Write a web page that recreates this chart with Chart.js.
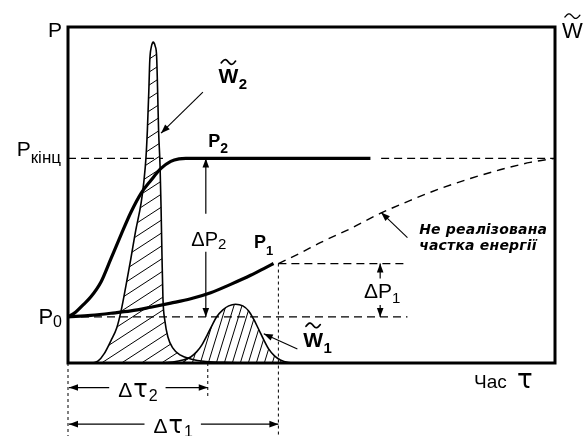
<!DOCTYPE html>
<html>
<head>
<meta charset="utf-8">
<script src="https://cdn.jsdelivr.net/npm/chart.js@4/dist/chart.umd.min.js"></script>
<style>
  html, body { margin: 0; padding: 0; background: #fff; }
  canvas { display: block; }
</style>
</head>
<body>
<canvas id="c" width="585" height="436"></canvas>
<script>
// Power levels (P axis, arbitrary units 0..100)
const P0 = 13.7;      // initial level P0
const P_END = 60.9;   // final level P_кінц
const P1_END = 29.6;  // level of P1 at the end of Δτ1
// Time marks (τ axis, arbitrary units 0..100)
const TAU2 = 28.7;    // Δτ2
const TAU1 = 43.2;    // Δτ1

// P2: fast growth to P_кінц
const p2Time  = [0, 1.6, 3.1, 4.7, 6.8, 8.8, 10.9, 12.9, 15.0, 17.0, 19.1, 21.1, 22.8, 24.2, 62.1];
const p2Power = [P0, 15.2, 17.3, 19.7, 24.2, 31.0, 38.2, 44.8, 50.5, 54.3, 57.9, 60.0, 60.75, P_END, P_END];

// P1: slow growth during Δτ1
const p1Time  = [0, 4.7, 8.8, 12.9, 17.0, 21.1, 25.2, 29.3, 33.4, 37.5, 40.6, 42.2];
const p1Power = [P0, 14.2, 14.8, 15.5, 16.6, 17.8, 19.1, 20.9, 23.4, 26.1, 28.4, P1_END];

// Continuation of P1 that is not reached (unrealised part of energy)
const lossTime  = [TAU1, 47.8, 51.8, 58.0, 64.1, 70.3, 76.4, 82.6, 88.7, 94.9, 100];
const lossPower = [P1_END, 32.8, 35.8, 40.0, 44.5, 48.4, 51.9, 54.9, 57.5, 59.7, P_END];

// W̃2: short intense energy pulse
const w2Time = [5.1, 6.2, 7.4, 8.8, 10.0, 10.9, 11.9, 12.9, 13.9, 15.0, 15.6, 16.0, 16.3, 16.6, 16.8, 17.1, 17.5,
                17.9, 18.2, 18.4, 18.6, 18.9, 19.1, 19.3, 19.5, 19.9, 20.5, 21.5, 23.0, 25.2, 28.3, 33.4, 38.5];
const w2Rate = [0, 0.6, 2.7, 6.6, 10.4, 15.5, 23.0, 31.0, 39.4, 47.5, 54.3, 60.9, 69.3, 81.2, 90.2, 94.0, 95.5,
                94.3, 91.3, 81.2, 69.3, 58.8, 46.9, 31.9, 19.1, 12.5, 7.8, 4.5, 2.4, 1.2, 0.45, 0.15, 0];

// W̃1: long weak energy pulse
const w1Time = [19.1, 21.5, 23.6, 25.2, 26.4, 27.5, 28.5, 29.5, 30.5, 31.8, 33.0, 34.4, 35.9, 37.1, 38.1,
                39.1, 40.2, 41.2, 42.4, 43.6, 45.3, 46.9];
const w1Rate = [0, 0.3, 0.9, 1.8, 3.3, 5.4, 8.1, 11.0, 13.7, 15.8, 17.0, 17.5, 17.0, 15.5, 13.1,
                10.2, 6.9, 4.2, 2.1, 0.9, 0.15, 0];

const SANS = '"Liberation Sans", Arial, sans-serif';
const WIDE = '"DejaVu Sans", sans-serif';

const pts = (xs, ys) => xs.map((x, i) => ({ x, y: ys[i] }));

const canvas = document.getElementById('c');
const ctx0 = canvas.getContext('2d');

// diagonal hatching tile: lines with slope h/w, spaced w apart horizontally
function hatch(w, h, lw) {
  const t = document.createElement('canvas');
  t.width = w; t.height = h;
  const g = t.getContext('2d');
  g.strokeStyle = '#000';
  g.lineWidth = lw;
  for (let k = 0; k <= 2; k++) {
    g.beginPath();
    g.moveTo(-w, k * h + h);
    g.lineTo(2 * w, k * h - 2 * h);
    g.stroke();
  }
  return ctx0.createPattern(t, 'repeat');
}
const hatchW2 = hatch(20, 13, 1);
const hatchW1 = hatch(8, 26, 1);

const line = (data, extra) => Object.assign({
  data, borderColor: '#000', borderWidth: 1.3, pointRadius: 0, fill: false, tension: 0
}, extra);

// label anchors (data units)
const ANCH = {
  w2Label: [30.9, 83.3], w2Arrow: [[27.7, 80.6], [19.1, 68.4]],
  w1Label: [48.3, 4.9],  w1Arrow: [[47.1, 4.2], [40.2, 8.7]],
  noteText: [72.1, 38.3], noteArrow: [[69.7, 37.3], [64.3, 44.8]],
  p2Label: [28.8, 64.3], p1Label: [38.2, 34.1],
  dP2x: 28.3, dP1x: 64.1, tau2Y: -7.3, tau1Y: -18.2
};

function head(ctx, x1, y1, x2, y2, len, half) {
  len = len || 9; half = half || 3.3;
  const a = Math.atan2(y2 - y1, x2 - x1), c = Math.cos(a), s = Math.sin(a);
  ctx.beginPath();
  ctx.moveTo(x2, y2);
  ctx.lineTo(x2 - len * c + half * s, y2 - len * s - half * c);
  ctx.lineTo(x2 - len * c - half * s, y2 - len * s + half * c);
  ctx.closePath();
  ctx.fill();
}
function arrow(ctx, x1, y1, x2, y2, lw) {
  ctx.lineWidth = lw || 1.2;
  ctx.beginPath(); ctx.moveTo(x1, y1); ctx.lineTo(x2, y2); ctx.stroke();
  head(ctx, x1, y1, x2, y2);
}
// run of text pieces with individual fonts and vertical offsets
function runText(ctx, parts, x, y, align) {
  let total = 0;
  parts.forEach(p => { ctx.font = p.f; p.w = ctx.measureText(p.t).width; total += p.w + (p.g || 0); });
  let cx = align === 'right' ? x - total : align === 'center' ? x - total / 2 : x;
  const left = cx;
  ctx.textAlign = 'left';
  ctx.textBaseline = 'alphabetic';
  parts.forEach(p => { ctx.font = p.f; ctx.fillText(p.t, cx, y + (p.dy || 0)); cx += p.w + (p.g || 0); });
  return { left, right: left + total };
}
// wavy accent
function tildeMark(ctx, cx, cy, w, amp, lw) {
  ctx.save();
  ctx.lineWidth = lw;
  ctx.lineCap = 'round';
  ctx.beginPath();
  for (let i = 0; i <= 24; i++) {
    const t = -0.06 + 1.12 * i / 24;
    const x = cx - w / 2 + w * (i / 24);
    const y = cy - amp * Math.sin(2 * Math.PI * t);
    if (i === 0) ctx.moveTo(x, y); else ctx.lineTo(x, y);
  }
  ctx.stroke();
  ctx.restore();
}
// W with a tilde accent and optional subscript
function wTilde(ctx, x, base, size, weight, sub, subSize) {
  ctx.textAlign = 'left';
  ctx.textBaseline = 'alphabetic';
  ctx.font = `${weight} ${size}px ${SANS}`;
  const w = ctx.measureText('W').width;
  ctx.fillText('W', x, base);
  tildeMark(ctx, x + w / 2, base - size * 0.72 - 6, w * 0.72, 2.3, weight === 'bold' ? 1.7 : 1.3);
  if (sub) {
    ctx.font = `${weight} ${subSize}px ${SANS}`;
    ctx.fillText(sub, x + w + 0.5, base + size * 0.3);
  }
}

const annotations = {
  id: 'annotations',
  afterDraw(chart) {
    const ctx = chart.ctx, a = chart.chartArea;
    const X = v => chart.scales.x.getPixelForValue(v);
    const Y = v => chart.scales.y.getPixelForValue(v);
    ctx.save();
    ctx.strokeStyle = '#000';
    ctx.fillStyle = '#000';

    // frame
    ctx.lineWidth = 3;
    ctx.strokeRect(a.left, a.top, a.right - a.left, a.bottom - a.top);

    // axis names
    runText(ctx, [{ t: 'P', f: `21px ${SANS}` }], a.left - 6, a.top + 10, 'right');
    wTilde(ctx, a.right + 7, a.top + 11, 22, 'normal');
    ctx.font = `19px ${SANS}`;
    ctx.textAlign = 'left';
    ctx.fillText('Час', a.right - 81, a.bottom + 25);
    ctx.font = `26px ${WIDE}`;
    ctx.fillText('τ', a.right - 38, a.bottom + 25);

    // level names on the P axis
    runText(ctx, [{ t: 'P', f: `21px ${SANS}` }, { t: 'кінц', f: `17px ${SANS}`, dy: 7 }],
            a.left - 7, Y(P_END) - 2, 'right');
    runText(ctx, [{ t: 'P', f: `22px ${SANS}` }, { t: '0', f: `16px ${SANS}`, dy: 3 }],
            a.left - 6, Y(P0) + 7, 'right');

    // curve names
    runText(ctx, [{ t: 'P', f: `bold 18px ${SANS}` }, { t: '2', f: `bold 14px ${SANS}`, dy: 6 }],
            X(ANCH.p2Label[0]), Y(ANCH.p2Label[1]));
    runText(ctx, [{ t: 'P', f: `bold 18px ${SANS}` }, { t: '1', f: `bold 13px ${SANS}`, dy: 7 }],
            X(ANCH.p1Label[0]), Y(ANCH.p1Label[1]));
    wTilde(ctx, X(ANCH.w2Label[0]), Y(ANCH.w2Label[1]), 21, 'bold', '2', 15);
    wTilde(ctx, X(ANCH.w1Label[0]), Y(ANCH.w1Label[1]), 21, 'bold', '1', 15);

    arrow(ctx, X(ANCH.w2Arrow[0][0]), Y(ANCH.w2Arrow[0][1]), X(ANCH.w2Arrow[1][0]), Y(ANCH.w2Arrow[1][1]), 1.1);
    arrow(ctx, X(ANCH.w1Arrow[0][0]), Y(ANCH.w1Arrow[0][1]), X(ANCH.w1Arrow[1][0]), Y(ANCH.w1Arrow[1][1]), 1.1);

    // note about the unrealised part of energy
    ctx.font = `italic bold 14px ${WIDE}`;
    ctx.textAlign = 'left';
    ctx.letterSpacing = '0.2px';
    ctx.fillText('Не реалізована', X(ANCH.noteText[0]), Y(ANCH.noteText[1]));
    ctx.fillText('частка енергії', X(ANCH.noteText[0]), Y(ANCH.noteText[1]) + 16);
    ctx.letterSpacing = '0px';
    arrow(ctx, X(ANCH.noteArrow[0][0]), Y(ANCH.noteArrow[0][1]), X(ANCH.noteArrow[1][0]), Y(ANCH.noteArrow[1][1]), 1.1);

    // ΔP2
    {
      const x = X(ANCH.dP2x), yT = Y(P_END), yB = Y(P0);
      const base = (yT + yB) / 2 + 8;
      runText(ctx, [{ t: 'ΔP', f: `20px ${SANS}` }, { t: '2', f: `15px ${SANS}`, dy: 3 }], x + 3, base, 'center');
      arrow(ctx, x, base - 32, x, yT, 1.2);
      arrow(ctx, x, base + 6, x, yB, 1.2);
    }
    // ΔP1
    {
      const x = X(ANCH.dP1x), yT = Y(P1_END), yB = Y(P0);
      const base = (yT + yB) / 2 + 8;
      runText(ctx, [{ t: 'ΔP', f: `21px ${SANS}` }, { t: '1', f: `15px ${SANS}`, dy: 5 }], x + 2, base, 'center');
      arrow(ctx, x, yT + 15, x, yT, 1.2);
      arrow(ctx, x, yB - 12, x, yB, 1.2);
    }
    // Δτ2, Δτ1
    [[ANCH.tau2Y, TAU2, '2'], [ANCH.tau1Y, TAU1, '1']].forEach(([yv, tv, s]) => {
      const y = Y(yv), x1 = X(0), x2 = X(tv);
      const r = runText(ctx, [
        { t: 'Δ', f: `21px ${SANS}`, g: 1 },
        { t: 'τ', f: `24px ${WIDE}`, g: 1 },
        { t: s, f: `16px ${SANS}`, dy: 4 }
      ], (x1 + x2) / 2, y + 9, 'center');
      arrow(ctx, r.left - 9, y, x1 + 1, y, 1.2);
      arrow(ctx, r.right + 8, y, x2, y, 1.2);
    });

    ctx.restore();
  }
};

new Chart(canvas, {
  type: 'line',
  data: {
    datasets: [
      line(pts(p2Time, p2Power), { borderWidth: 3.2, cubicInterpolationMode: 'monotone' }),
      line(pts(p1Time, p1Power), { borderWidth: 3.2, cubicInterpolationMode: 'monotone' }),
      line(pts(lossTime, lossPower), { borderWidth: 1.4, borderDash: [8, 6], cubicInterpolationMode: 'monotone', clip: false }),
      line(pts(w2Time, w2Rate), { yAxisID: 'w', borderWidth: 1.6, cubicInterpolationMode: 'monotone',
                                   fill: 'origin', backgroundColor: hatchW2 }),
      line(pts(w1Time, w1Rate), { yAxisID: 'w', borderWidth: 1.6, cubicInterpolationMode: 'monotone',
                                   fill: 'origin', backgroundColor: hatchW1 }),
      // level guides
      line([{ x: 0, y: P_END }, { x: 19.5, y: P_END }], { borderDash: [8, 5] }),
      line([{ x: 64.3, y: P_END }, { x: 100, y: P_END }], { borderDash: [8, 5], clip: false }),
      line([{ x: 0, y: P0 }, { x: 69.7, y: P0 }], { borderDash: [8, 5] }),
      line([{ x: TAU1, y: P1_END }, { x: 69.0, y: P1_END }], { borderDash: [8, 5] }),
      // time guides
      line([{ x: 0, y: 0 }, { x: 0, y: -22 }], { borderWidth: 1, borderDash: [3, 3], clip: false }),
      line([{ x: TAU2, y: 0 }, { x: TAU2, y: -10.5 }], { borderWidth: 1, borderDash: [3, 3], clip: false }),
      line([{ x: TAU1, y: P1_END }, { x: TAU1, y: -22 }], { borderWidth: 1, borderDash: [3, 3], clip: false })
    ]
  },
  options: {
    responsive: false,
    animation: false,
    devicePixelRatio: 1,
    layout: { padding: { left: 68, right: 30, top: 27, bottom: 73 } },
    plugins: { legend: { display: false }, tooltip: { enabled: false } },
    scales: {
      x: { type: 'linear', min: 0, max: 100, display: false },
      y: { type: 'linear', min: 0, max: 100, display: false },
      w: { type: 'linear', min: 0, max: 100, display: false, position: 'right' }
    }
  },
  plugins: [annotations]
});
</script>
</body>
</html>
